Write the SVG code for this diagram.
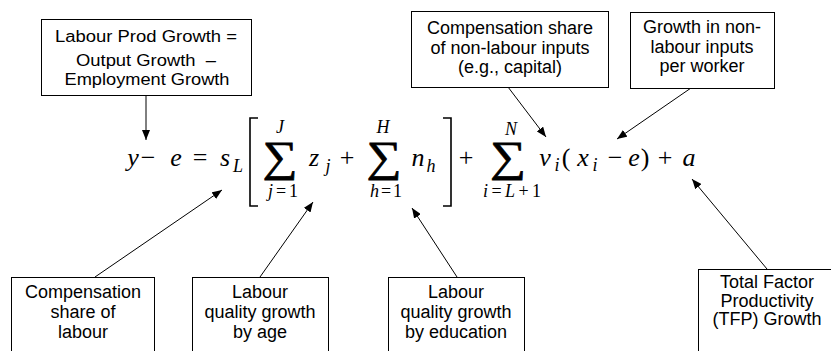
<svg xmlns="http://www.w3.org/2000/svg" width="831" height="351" viewBox="0 0 831 351">
<style>
.box{fill:#fff;stroke:#000;stroke-width:1}
.lbl{font-family:"Liberation Sans",Arial,sans-serif;font-size:18px;fill:#000;text-anchor:middle}
.lbl2{font-family:"Liberation Sans",Arial,sans-serif;font-size:16px;fill:#000;text-anchor:middle}
.m{font-family:"Liberation Serif","Times New Roman",serif;font-size:26px;font-style:italic;fill:#000;text-anchor:middle}
.r{font-style:normal}
.s{font-size:18px}
.sum{font-family:"Liberation Serif","Times New Roman",serif;font-size:43px;fill:#000;stroke:#000;stroke-width:0.7;text-anchor:middle}
.con{stroke:#000;stroke-width:1;fill:none;marker-end:url(#ah)}
.brk{stroke:#000;stroke-width:1.6;fill:none}
</style>
<defs>
<marker id="ah" markerUnits="userSpaceOnUse" markerWidth="10" markerHeight="8" refX="10" refY="4" orient="auto">
<path d="M0,0 L10,4 L0,8 z" fill="#000"/>
</marker>
</defs>
<rect width="831" height="351" fill="#fff"/>

<g id="equation">
<text class="m" x="133" y="166">y</text>
<text class="m r" x="148" y="166">−</text>
<text class="m" x="176" y="166">e</text>
<text class="m r" x="200" y="166">=</text>
<text class="m" x="225" y="166">s</text>
<text class="m s" x="238" y="172">L</text>
<path class="brk" d="M258,118 H250 V206 H258"/>
<text class="sum" x="280" y="171" textLength="35" lengthAdjust="spacingAndGlyphs">∑</text>
<text class="m s" x="280" y="133">J</text>
<text class="m s" x="283" y="197" textLength="30" lengthAdjust="spacing">j<tspan class="r">=1</tspan></text>
<text class="m" x="314" y="166">z</text>
<text class="m s" x="328" y="172">j</text>
<text class="m r" x="347" y="166">+</text>
<text class="sum" x="384" y="171" textLength="35" lengthAdjust="spacingAndGlyphs">∑</text>
<text class="m s" x="383" y="133">H</text>
<text class="m s" x="386" y="197" textLength="32" lengthAdjust="spacing">h<tspan class="r">=1</tspan></text>
<text class="m" x="418" y="166">n</text>
<text class="m s" x="431" y="172">h</text>
<path class="brk" d="M443,118 H451 V206 H443"/>
<text class="m r" x="466" y="166">+</text>
<text class="sum" x="508" y="171" textLength="36" lengthAdjust="spacingAndGlyphs">∑</text>
<text class="m s" x="511" y="135">N</text>
<text class="m s" x="512" y="197" textLength="58" lengthAdjust="spacing">i<tspan class="r">=</tspan>L<tspan class="r">+1</tspan></text>
<text class="m" x="545" y="166">v</text>
<text class="m s" x="557" y="171">i</text>
<text class="m r" x="566" y="166">(</text>
<text class="m" x="583" y="166">x</text>
<text class="m s" x="595" y="171">i</text>
<text class="m r" x="615" y="166">−</text>
<text class="m" x="634" y="166">e</text>
<text class="m r" x="645" y="166">)</text>
<text class="m r" x="665" y="166">+</text>
<text class="m" x="689" y="166">a</text>
</g>

<g id="connectors">
<line class="con" x1="146" y1="95" x2="146" y2="140"/>
<line class="con" x1="95" y1="277" x2="222" y2="190"/>
<line class="con" x1="260" y1="277" x2="313" y2="202"/>
<line class="con" x1="457" y1="277" x2="412" y2="208"/>
<line class="con" x1="767" y1="269" x2="692" y2="179"/>
<line class="con" x1="508" y1="87" x2="546" y2="137"/>
<line class="con" x1="691" y1="88" x2="617" y2="139"/>
</g>

<g id="n-labour-prod">
<rect class="box" x="41.5" y="19.5" width="210" height="76"/>
<text class="lbl2" x="146" y="41.5" textLength="182" lengthAdjust="spacingAndGlyphs">Labour Prod Growth =</text>
<text class="lbl2" x="146" y="65.5" textLength="140" lengthAdjust="spacingAndGlyphs" xml:space="preserve">Output Growth  –</text>
<text class="lbl2" x="147" y="85" textLength="165" lengthAdjust="spacingAndGlyphs">Employment Growth</text>
</g>

<g id="n-comp-nonlabour">
<rect class="box" x="411.5" y="11.5" width="197" height="76"/>
<text class="lbl" x="510" y="34">Compensation share</text>
<text class="lbl" x="510" y="54">of non-labour inputs</text>
<text class="lbl" x="510" y="73">(e.g., capital)</text>
</g>

<g id="n-growth-nonlabour">
<rect class="box" x="630.5" y="12.5" width="144" height="76"/>
<text class="lbl" x="702" y="33">Growth in non-</text>
<text class="lbl" x="702" y="53">labour inputs</text>
<text class="lbl" x="702" y="72">per worker</text>
</g>

<g id="n-comp-labour">
<rect class="box" x="11.5" y="277.5" width="143" height="90"/>
<text class="lbl" x="83" y="298">Compensation</text>
<text class="lbl" x="83" y="318">share of</text>
<text class="lbl" x="83" y="338">labour</text>
</g>

<g id="n-quality-age">
<rect class="box" x="192.5" y="277.5" width="136" height="90"/>
<text class="lbl" x="260" y="298">Labour</text>
<text class="lbl" x="260" y="318">quality growth</text>
<text class="lbl" x="260" y="338">by age</text>
</g>

<g id="n-quality-edu">
<rect class="box" x="388.5" y="277.5" width="136" height="90"/>
<text class="lbl" x="456" y="298">Labour</text>
<text class="lbl" x="456" y="318">quality growth</text>
<text class="lbl" x="456" y="338">by education</text>
</g>

<g id="n-tfp">
<rect class="box" x="698.5" y="269.5" width="140" height="100"/>
<text class="lbl" x="767" y="288">Total Factor</text>
<text class="lbl" x="767" y="307">Productivity</text>
<text class="lbl" x="767" y="325">(TFP) Growth</text>
</g>
</svg>
